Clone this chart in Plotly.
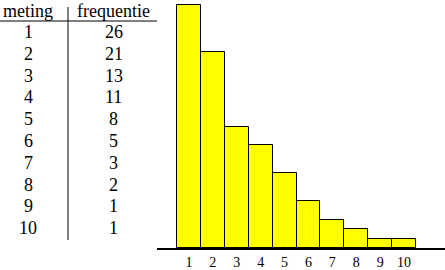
import plotly.graph_objects as go

meting = [1, 2, 3, 4, 5, 6, 7, 8, 9, 10]
frequentie = [26, 21, 13, 11, 8, 5, 3, 2, 1, 1]
headers = ["meting", "frequentie"]

W, H = 445, 270
FONT = "Liberation Serif, Times New Roman, serif"

def px(x):
    return x / W

def py(y):
    return 1 - y / H

fig = go.Figure()
fig.add_trace(go.Bar(
    x=meting, y=frequentie, width=1,
    marker=dict(color="#FFFF00", line=dict(color="black", width=1)),
    hoverinfo="skip",
))

unit = (416 - 177) / 10.0
x0 = 0.5 - (177 - 157) / unit
x1 = 10.5 + (445 - 416) / unit
ppu = (248 - 5) / 26.0

fig.update_layout(
    width=W, height=H,
    margin=dict(l=0, r=0, t=0, b=0),
    paper_bgcolor="white", plot_bgcolor="white",
    showlegend=False,
    bargap=0,
    font=dict(family=FONT, color="black"),
    xaxis=dict(
        domain=[157 / W, 1], range=[x0, x1],
        showgrid=False, zeroline=False,
        showline=True, linecolor="black", linewidth=2,
        tickmode="array", tickvals=meting, ticktext=[str(m) for m in meting],
        ticks="", tickfont=dict(family=FONT, size=14, color="black"),
    ),
    yaxis=dict(
        domain=[(H - 248) / H, 1], range=[0, 248 / ppu],
        showgrid=False, zeroline=False, showline=False,
        showticklabels=False, ticks="",
    ),
)

annotations = []
col_x = [28, 114]
TS = 18
for hx, htxt in zip(col_x, headers):
    annotations.append(dict(x=px(hx), y=py(11), xref="paper", yref="paper",
                            text=htxt, showarrow=False, xanchor="center", yanchor="middle",
                            font=dict(family=FONT, size=TS, color="black")))
for i, (m, f) in enumerate(zip(meting, frequentie)):
    yy = 32 + 21.8 * i
    annotations.append(dict(x=px(col_x[0]), y=py(yy), xref="paper", yref="paper",
                            text=str(m), showarrow=False, xanchor="center", yanchor="middle",
                            font=dict(family=FONT, size=TS, color="black")))
    annotations.append(dict(x=px(col_x[1]), y=py(yy), xref="paper", yref="paper",
                            text=str(f), showarrow=False, xanchor="center", yanchor="middle",
                            font=dict(family=FONT, size=TS, color="black")))
fig.update_layout(annotations=annotations)

fig.add_shape(type="line", xref="paper", yref="paper",
              x0=px(0), x1=px(157), y0=py(21), y1=py(21),
              line=dict(color="black", width=1))
fig.add_shape(type="line", xref="paper", yref="paper",
              x0=px(68), x1=px(68), y0=py(7), y1=py(240),
              line=dict(color="black", width=1))

fig.write_html("out.html")
